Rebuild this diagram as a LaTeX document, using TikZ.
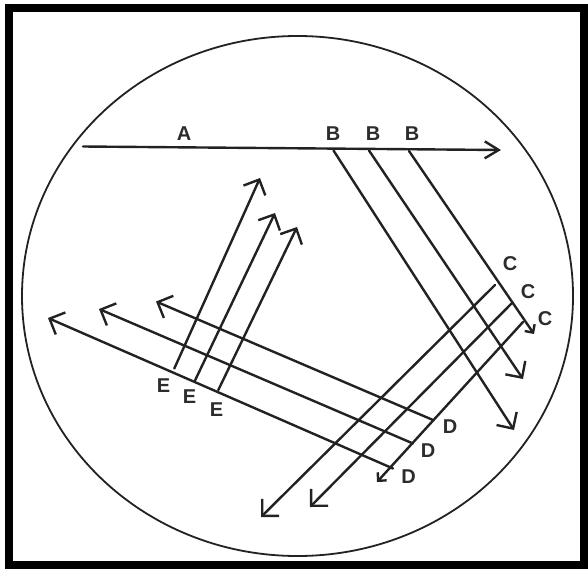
\documentclass[tikz,border=0pt]{standalone}
\usepackage{fontspec}
\setmainfont{Liberation Sans}
\usetikzlibrary{arrows.meta}
\definecolor{ink}{HTML}{222222}
\definecolor{lab}{HTML}{2C2C2C}
\tikzset{
  streak/.style={draw=ink, line width=2.4pt, line cap=round,
    -{Straight Barb[length=12pt,width=24pt,line width=2.4pt]}},
  smallhead/.style={draw=ink, line width=2.4pt, line cap=round,
    -{Straight Barb[length=6pt,width=12pt,line width=2.4pt]}},
  ahead/.style={draw=ink, line width=2.4pt, line cap=round,
    -{Straight Barb[length=14pt,width=17pt,line width=2.4pt]}},
  lbl/.style={text=lab, font=\fontsize{20}{20}\selectfont\bfseries, inner sep=0pt}
}
\begin{document}
\begin{tikzpicture}[x=1pt,y=-1pt]
\useasboundingbox (0,0) rectangle (588,570);
\fill[white] (0,0) rectangle (588,570);
% frame
\draw[line width=8pt, black] (9,8) rectangle (584,565);
% plate
\draw[ink, line width=1.8pt] (297.5,296) ellipse [x radius=275.5pt, y radius=260pt];
% coordinates
\coordinate (a0) at (83,146.5);  \coordinate (a1) at (501,150);
\coordinate (b1s) at (333.5,150.5); \coordinate (b1e) at (514,430);
\coordinate (b2s) at (369,150.5);   \coordinate (b2e) at (523,379);
\coordinate (b3s) at (409,151);     \coordinate (b3e) at (534,334);
\coordinate (c1s) at (495,285);     \coordinate (c1e) at (261,517);
\coordinate (c2s) at (511.5,303.5); \coordinate (c2e) at (310,507);
\coordinate (c3s) at (523,322);     \coordinate (c3e) at (377,482);
\coordinate (d1s) at (433,420);     \coordinate (d1e) at (156,301.5);
\coordinate (d2s) at (413,443.5);   \coordinate (d2e) at (99,309);
\coordinate (d3s) at (393,468.5);   \coordinate (d3e) at (48,318);
\coordinate (e1s) at (174.3,368.5); \coordinate (e1e) at (260,178);
\coordinate (e2s) at (195,380.5);   \coordinate (e2e) at (275,213);
\coordinate (e3s) at (218.3,390);   \coordinate (e3e) at (297,227);
% streaks
\draw[ahead] (a0) -- (a1);
\draw[streak] (b1s) -- (b1e);
\draw[streak] (b2s) -- (b2e);
\draw[smallhead] (b3s) -- (b3e);
\draw[streak] (c1s) -- (c1e);
\draw[streak] (c2s) -- (c2e);
\draw[smallhead] (c3s) -- (c3e);
\draw[streak] (d1s) -- (d1e);
\draw[streak] (d2s) -- (d2e);
\draw[streak] (d3s) -- (d3e);
\draw[streak] (e1s) -- (e1e);
\draw[streak] (e2s) -- (e2e);
\draw[streak] (e3s) -- (e3e);
% labels
\node[lbl] (la) at (184,134) {A};
\node[lbl] (lb1) at (333,134) {B};
\node[lbl] (lb2) at (373,134) {B};
\node[lbl] (lb3) at (412,134) {B};
\node[lbl] (lc1) at (510,263.5) {C};
\node[lbl] (lc2) at (528,291.5) {C};
\node[lbl] (lc3) at (545,318.5) {C};
\node[lbl] (ld1) at (450,427) {D};
\node[lbl] (ld2) at (428,450.5) {D};
\node[lbl] (ld3) at (408.5,476.5) {D};
\node[lbl] (le1) at (163.5,386) {E};
\node[lbl] (le2) at (189.5,397) {E};
\node[lbl] (le3) at (216.5,409.5) {E};
\end{tikzpicture}
\end{document}
